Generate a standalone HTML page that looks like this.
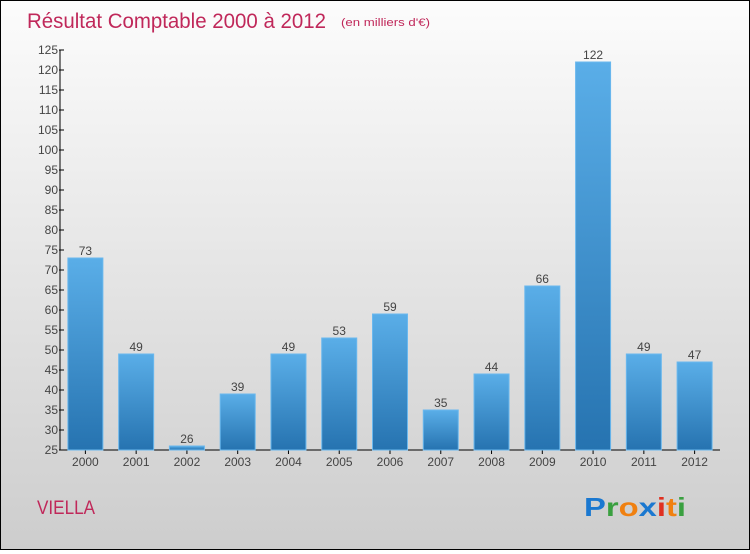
<!DOCTYPE html>
<html><head><meta charset="utf-8"><style>
html,body{margin:0;padding:0}
body{width:750px;height:550px;overflow:hidden;font-family:"Liberation Sans",sans-serif}
#wrap{position:relative;width:748px;height:548px;border:1px solid #000;background:linear-gradient(#fcfcfc,#cdcdcd)}
</style></head><body>
<div id="wrap">
<svg id="chart" width="748" height="548">
<defs><linearGradient id="bg" x1="0" y1="0" x2="0" y2="1"><stop offset="0" stop-color="#5aaee8"/><stop offset="1" stop-color="#2673b0"/></linearGradient></defs>
<text x="26" y="27" font-size="21" fill="#c0285a" textLength="299" lengthAdjust="spacingAndGlyphs">Résultat Comptable 2000 à 2012</text>
<text x="340" y="25" font-size="11" fill="#c0285a" textLength="89" lengthAdjust="spacingAndGlyphs">(en milliers d'€)</text>
<text x="36" y="513" font-size="19" fill="#c0285a" textLength="58" lengthAdjust="spacingAndGlyphs">VIELLA</text>
<g font-size="26" font-weight="bold" font-family="Liberation Sans,sans-serif">
<text x="583" y="515" textLength="102" lengthAdjust="spacingAndGlyphs"><tspan fill="#1a78d0">P</tspan><tspan fill="#3aa040">r</tspan><tspan fill="#f08010">o</tspan><tspan fill="#1a78d0">x</tspan><tspan fill="#e03020">i</tspan><tspan fill="#f08010">t</tspan><tspan fill="#3aa040">i</tspan></text>
</g>
<g id="axes"></g><g id="bars"></g>
</svg></div>
<script>
const categories=["2000","2001","2002","2003","2004","2005","2006","2007","2008","2009","2010","2011","2012"];
const values=[73,49,26,39,49,53,59,35,44,66,122,49,47];
const yTicks=[25,30,35,40,45,50,55,60,65,70,75,80,85,90,95,100,105,110,115,120,125];
const NS="http://www.w3.org/2000/svg";
const x0=59,x1=719,yTop=49,yBot=449,vMin=25,vMax=125;
const band=(x1-x0)/categories.length;
function yS(v){return yBot-(v-vMin)/(vMax-vMin)*(yBot-yTop);}
function xS(i){return x0+i*band;}
function mk(t,a,p){const e=document.createElementNS(NS,t);for(const k in a)e.setAttribute(k,a[k]);p.appendChild(e);return e;}
const ax=document.getElementById('axes'),bs=document.getElementById('bars');
const ya=mk('line',{x1:x0,y1:yTop,x2:x0,y2:yBot,stroke:'#000'},ax);


const xa=mk('line',{x1:x0,y1:yBot,x2:x1,y2:yBot,stroke:'#000'},ax);


yTicks.forEach(v=>{const y=yS(v);
mk('line',{x1:x0-1,y1:y,x2:x0+4,y2:y,stroke:'#000'},ax);
const t=mk('text',{x:x0-2,y:y+4,'text-anchor':'end','font-size':12,fill:'#444'},ax);t.textContent=v;

});
categories.forEach((c,i)=>{const cx=xS(i)+band/2;
mk('line',{x1:cx,y1:yBot,x2:cx,y2:yBot+4,stroke:'#000'},ax);
const t=mk('text',{x:cx,y:yBot+16,'text-anchor':'middle','font-size':12,fill:'#444'},ax);t.textContent=c;


const v=values[i],y=yS(v);
const r=mk('rect',{x:cx-17.5,y:y,width:35,height:yBot-y,fill:'url(#bg)',stroke:'#6ab8ee','stroke-width':1},bs);


const l=mk('text',{x:cx,y:y-3,'text-anchor':'middle','font-size':12,fill:'#444'},bs);l.textContent=v;

});
</script>
</body></html>
